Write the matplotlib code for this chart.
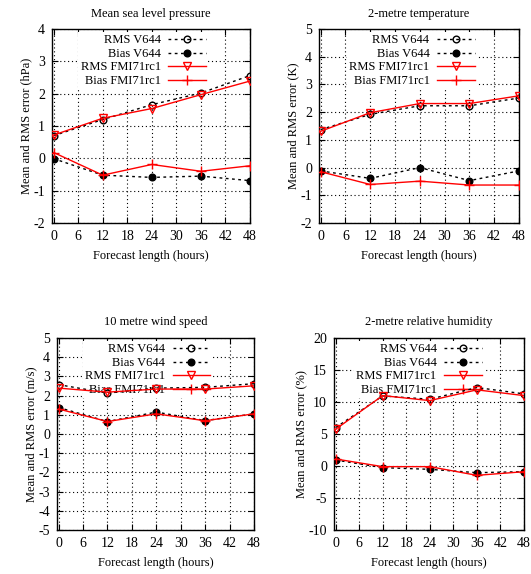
import numpy as np
import matplotlib
matplotlib.use('Agg')
import matplotlib.pyplot as plt

plt.rcParams['font.family'] = ['Liberation Serif', 'DejaVu Serif']
plt.rcParams['font.size'] = 9
plt.rcParams['axes.unicode_minus'] = False

# Forecast lengths (hours)
hours = [0, 12, 24, 36, 48]

# Mean sea level pressure (hPa)
mslp_rms_v644 = [0.70, 1.20, 1.66, 2.02, 2.56]
mslp_bias_v644 = [-0.01, -0.52, -0.59, -0.55, -0.69]
mslp_rms_fmi = [0.72, 1.24, 1.54, 1.97, 2.39]
mslp_bias_fmi = [0.18, -0.52, -0.19, -0.40, -0.23]

# 2-metre temperature (K)
t2m_rms_v644 = [1.37, 1.92, 2.23, 2.23, 2.51]
t2m_bias_v644 = [-0.12, -0.39, 0.00, -0.47, -0.12]
t2m_rms_fmi = [1.31, 1.98, 2.31, 2.31, 2.59]
t2m_bias_fmi = [-0.15, -0.61, -0.49, -0.63, -0.63]

# 10 metre wind speed (m/s)
ws_rms_v644 = [2.57, 2.13, 2.39, 2.43, 2.62]
ws_bias_v644 = [1.38, 0.65, 1.14, 0.70, 1.05]
ws_rms_fmi = [2.39, 2.18, 2.34, 2.34, 2.51]
ws_bias_fmi = [1.30, 0.65, 1.05, 0.69, 1.05]

# 2-metre relative humidity (%)
rh_rms_v644 = [6.0, 10.95, 10.43, 12.26, 11.27]
rh_bias_v644 = [0.94, -0.26, -0.52, -1.04, -0.89]
rh_rms_fmi = [5.74, 11.0, 10.22, 11.9, 11.0]
rh_bias_fmi = [1.1, -0.1, -0.1, -1.46, -0.89]

panels = [
    ("Mean sea level pressure", "Mean and RMS error (hPa)", (-2, 4), 1,
     mslp_rms_v644, mslp_bias_v644, mslp_rms_fmi, mslp_bias_fmi,
     [52, 29, 250, 223]),
    ("2-metre temperature", "Mean and RMS error (K)", (-2, 5), 1,
     t2m_rms_v644, t2m_bias_v644, t2m_rms_fmi, t2m_bias_fmi,
     [319, 29, 519, 223]),
    ("10 metre wind speed", "Mean and RMS error (m/s)", (-5, 5), 1,
     ws_rms_v644, ws_bias_v644, ws_rms_fmi, ws_bias_fmi,
     [57, 338, 254, 530]),
    ("2-metre relative humidity", "Mean and RMS error (%)", (-10, 20), 5,
     rh_rms_v644, rh_bias_v644, rh_rms_fmi, rh_bias_fmi,
     [334, 338, 524, 530]),
]

W, H = 531, 574
fig = plt.figure(figsize=(W / 100, H / 100), dpi=100)

for title, ylabel, ylim, ystep, rms_v, bias_v, rms_f, bias_f, box in panels:
    x0, y0, x1, y1 = box
    ax = fig.add_axes([x0 / W, (H - y1) / H, (x1 - x0) / W, (y1 - y0) / H])
    ax.set_axisbelow(True)

    ax.plot(hours, rms_v, color='black', ls=(0, (2, 2.5)), lw=1,
            marker='o', mfc='none', mec='black', ms=4.8, label='RMS V644', zorder=3)
    ax.plot(hours, bias_v, color='black', ls=(0, (2, 2.5)), lw=1,
            marker='o', mfc='black', mec='black', ms=4.8, label='Bias V644', zorder=3)
    ax.plot(hours, rms_f, color='red', ls='-', lw=1,
            marker='v', mfc='none', mec='red', ms=5.5, label='RMS FMI71rc1', zorder=4)
    ax.plot(hours, bias_f, color='red', ls='-', lw=1,
            marker='+', mec='red', ms=6.5, label='Bias FMI71rc1', zorder=4)

    ax.set_xlim(-0.4, 48)
    ax.set_ylim(*ylim)
    ax.set_xticks(np.arange(0, 49, 6))
    ax.set_yticks(np.arange(ylim[0], ylim[1] + ystep / 2, ystep))
    ax.tick_params(direction='in', top=True, right=True, length=4, width=0.8,
                   labelsize=10, pad=5)
    ax.grid(True, color='black', ls=(0, (1, 2.5)), lw=0.8)
    for s in ax.spines.values():
        s.set_linewidth(1)

    ax.set_title(title, fontsize=9, pad=9)
    ax.set_xlabel("Forecast length (hours)", fontsize=9, labelpad=5)
    ax.set_ylabel(ylabel, fontsize=9, labelpad=1)

    leg = ax.legend(loc='upper right', bbox_to_anchor=(0.79, 0.985),
                    markerfirst=False, frameon=True, fancybox=False,
                    edgecolor='none', facecolor='white', framealpha=1,
                    fontsize=9, handlelength=3.0, handletextpad=0.6,
                    labelspacing=0.12, borderpad=0.2, borderaxespad=0,
                    numpoints=1)
    leg.set_zorder(2)

fig.savefig('out.png', dpi=100)
